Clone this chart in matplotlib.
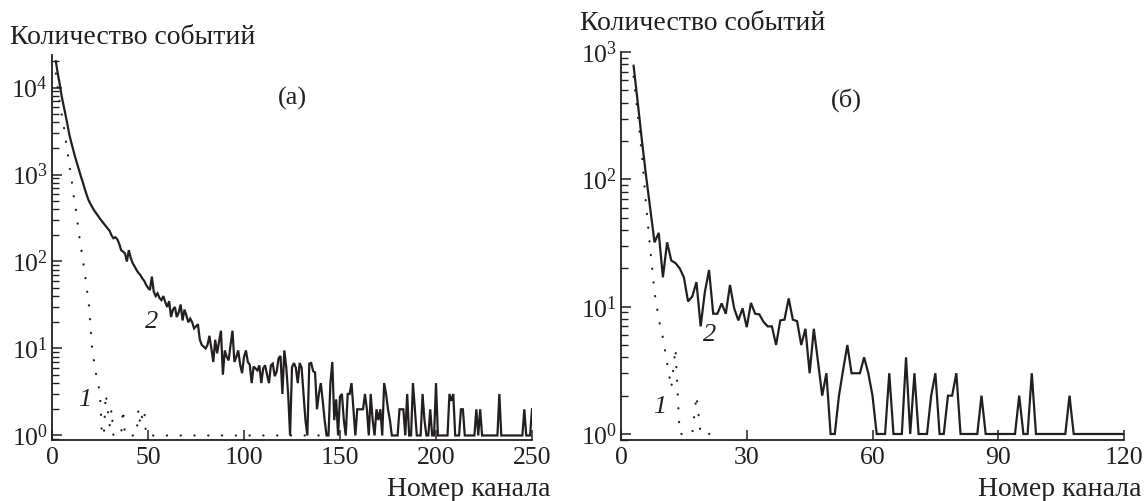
import numpy as np
import matplotlib
matplotlib.use("Agg")
import matplotlib.pyplot as plt
from matplotlib.ticker import LogLocator, FixedLocator, NullFormatter, LogFormatterSciNotation

plt.rcParams['font.family'] = ['Liberation Serif', 'DejaVu Serif']
plt.rcParams['mathtext.fontset'] = 'stix'

INK = '#231f20'

# ---------------- panel (а) ----------------
a_ch2 = list(range(2, 251))
a_val2 = [20000, 14500, 11000, 8000, 6300, 4900, 3800, 2900, 2350, 1950,   # 2-11
          1600, 1350, 1130, 960, 820, 690, 590, 510, 460, 420,            # 12-21
          385, 360, 335, 310, 290, 270, 255, 240, 225, 200,                # 22-31
          185, 190, 180, 160, 135, 130, 124, 100, 135, 110,                # 32-41
          96, 88, 80, 74, 70, 64, 60, 54, 50, 47,                          # 42-51
          67, 45, 40, 43, 38, 36, 40, 34, 30, 35,                          # 52-61
          23, 28, 30, 23, 26, 32, 21, 28, 24, 20,                          # 62-71
          22, 20, 17, 18, 19, 12.6, 11, 10.5, 10, 11,                      # 72-81
          14, 10, 7, 12.6, 8.8, 12, 16, 5, 9.5, 8,                         # 82-91
          7.3, 11, 16, 7, 8, 9.5, 6.5, 5.2, 8, 9.5,                        # 92-101
          7, 6.5, 4, 6.2, 5.9, 5.6, 6.4, 4, 5.9, 6.4,                      # 102-111
          5, 4, 6.4, 6.7, 4.8, 5.4, 7.7, 8.2, 3, 9.5,                      # 112-121
          6.1, 3, 1, 6.1, 6.8, 6, 4, 6.8, 6, 3,                            # 122-131
          1.5, 1, 6.7, 6.8, 5.5, 5.3, 2, 3, 4, 2.5,                        # 132-141
          1.5, 1, 1, 4, 7, 1.5, 2.6, 1, 2.8, 3,                            # 142-151
          1.5, 1, 3, 3, 4, 2, 1, 2, 2, 2,                                  # 152-161
          2, 3, 2, 1, 3, 1.5, 1, 2, 1.5, 2,                                # 162-171
          1, 4, 3, 2, 1.5, 1, 1, 1, 1, 2,                                  # 172-181
          2, 2, 1, 3, 1, 1, 4, 2, 1, 1,                                    # 182-191
          1, 3, 1.5, 1, 1, 2, 1, 1, 4, 1,                                  # 192-201
          1, 1, 1, 1, 1, 3, 2.5, 3, 1, 1,                                  # 202-211
          1, 2, 2, 1, 1, 1, 1, 1, 1, 2,                                    # 212-221
          1, 2, 1, 1, 1, 1, 1, 1, 1, 1,                                    # 222-231
          1, 3, 1, 1, 1, 1, 1, 1, 1, 1,                                    # 232-241
          1, 1, 1, 1, 2, 1, 1, 1, 2]                                       # 242-250

a_ch1 = list(range(2, 141))
a_val1 = ([14500, 10000, 6900, 5000, 3800, 2600, 1900, 1300, 950, 620,     # 2-11
           460, 320, 210, 150, 105, 78, 50, 36, 19, 9,                     # 12-21
           7, 5, 4, 3, 1, 1, 3, 2, 1.3, 2,                                 # 22-31
           1, 1, 1, 1, 1, 2, 1, 1, 1, 1,                                   # 32-41
           1, 1, 1, 2, 1.3, 1.7, 2, 1]                                     # 42-49
          + [1] * 91)                                                      # 50-140

# ---------------- panel (б) ----------------
b_ch2 = list(range(3, 121))
b_val2 = [780, 400, 200, 105, 58, 32, 38, 17, 32, 23,                      # 3-12
          22, 20, 17, 11, 12, 15.6, 7, 13, 19.4, 8.8,                      # 13-22
          8.8, 10.6, 8.8, 14.8, 9.7, 7.8, 9.7, 6.9, 10.7, 8.8,             # 23-32
          8.7, 7.6, 7, 7, 5, 7.8, 7.9, 11.6, 7.9, 7.7,                     # 33-42
          5, 6.7, 3, 6.7, 3.7, 2, 3, 1, 1, 2,                              # 43-52
          3.2, 5, 3, 3, 3, 4, 3, 2, 1, 1,                                  # 53-62
          1, 3, 1, 1, 1, 4, 1, 3, 1, 1,                                    # 63-72
          1, 2, 3, 1, 1, 2, 2, 3, 1, 1,                                    # 73-82
          1, 1, 1, 2, 1, 1, 1, 1, 1, 1,                                    # 83-92
          1, 1, 2, 1, 1, 3, 1, 1, 1, 1,                                    # 93-102
          1, 1, 1, 1, 2, 1, 1, 1, 1, 1,                                    # 103-112
          1, 1, 1, 1, 1, 1, 1, 1]                                          # 113-120

b_ch1 = list(range(3, 24))
b_val1 = [640, 320, 155, 62, 28, 13, 8, 5.7, 3.6, 2.3,                     # 3-12
          4.7, 1, 1, 1, 1, 2, 1, 1, 1, 1, 1]                               # 13-23

a_xticks = [0, 50, 100, 150, 200, 250]
b_xticks = [0, 30, 60, 90, 120]
ylabel_text = 'Количество событий'
xlabel_text = 'Номер канала'

W, H = 1145, 501
fig = plt.figure(figsize=(W / 100, H / 100), dpi=100)

ax1 = fig.add_axes([52 / W, 1 - 440 / H, (532 - 52) / W, (440 - 55) / H])
ax2 = fig.add_axes([621 / W, 1 - 440 / H, (1124 - 621) / W, (440 - 52) / H])

dot_style = (0, (0.1, 6.1))

for ax, c2, v2, c1, v1, xt, ylim in [
        (ax1, a_ch2, a_val2, a_ch1, a_val1, a_xticks, (0.887, 23650)),
        (ax2, b_ch2, b_val2, b_ch1, b_val1, b_xticks, (0.897, 1000))]:
    ax.plot(c1, v1, color=INK, lw=1.6, linestyle=dot_style,
            dash_capstyle='round', solid_joinstyle='round')
    ax.plot(c2, v2, color=INK, lw=1.6, solid_joinstyle='miter')
    ax.set_yscale('log')
    ax.set_ylim(*ylim)
    ax.set_xlim(xt[0], xt[-1])
    ax.xaxis.set_major_locator(FixedLocator(xt))
    ax.yaxis.set_major_locator(LogLocator(base=10, numticks=10))
    ax.yaxis.set_minor_locator(LogLocator(base=10, subs=np.arange(2, 10), numticks=10))
    ax.yaxis.set_minor_formatter(NullFormatter())
    ax.yaxis.set_major_formatter(LogFormatterSciNotation())
    for s in ['top', 'right']:
        ax.spines[s].set_visible(False)
    for s in ['left', 'bottom']:
        ax.spines[s].set_linewidth(1.3)
        ax.spines[s].set_color(INK)
    ax.tick_params(axis='both', which='major', direction='in', length=7, width=1.1,
                   labelsize=18.5, pad=3, colors=INK)
    ax.tick_params(axis='y', which='minor', direction='in', length=5, width=1.0,
                   colors=INK)
    ax.tick_params(axis='x', which='major', pad=5)
    ax.patch.set_alpha(0)

# curve labels
ax1.text(52, 20.4, '2', style='italic', fontsize=19, color=INK, ha='center', va='center')
ax1.text(17.2, 2.55, '1', style='italic', fontsize=19, color=INK, ha='center', va='center')
ax2.text(21.2, 6.0, '2', style='italic', fontsize=19, color=INK, ha='center', va='center')
ax2.text(9.3, 1.63, '1', style='italic', fontsize=19, color=INK, ha='center', va='center')

# panel labels
ax1.text(125, 7500, '(а)', fontsize=19, color=INK, ha='center', va='center')
ax2.text(53.7, 416, '(б)', fontsize=19, color=INK, ha='center', va='center')

# axis titles
fig.text(10 / W, 1 - 38 / H, ylabel_text, fontsize=20, color=INK, ha='left', va='center')
fig.text(580 / W, 1 - 23 / H, ylabel_text, fontsize=20, color=INK, ha='left', va='center')
fig.text(387 / W, 1 - 490 / H, xlabel_text, fontsize=20, color=INK, ha='left', va='center')
fig.text(978 / W, 1 - 490 / H, xlabel_text, fontsize=20, color=INK, ha='left', va='center')

fig.savefig('out.png', dpi=100)
